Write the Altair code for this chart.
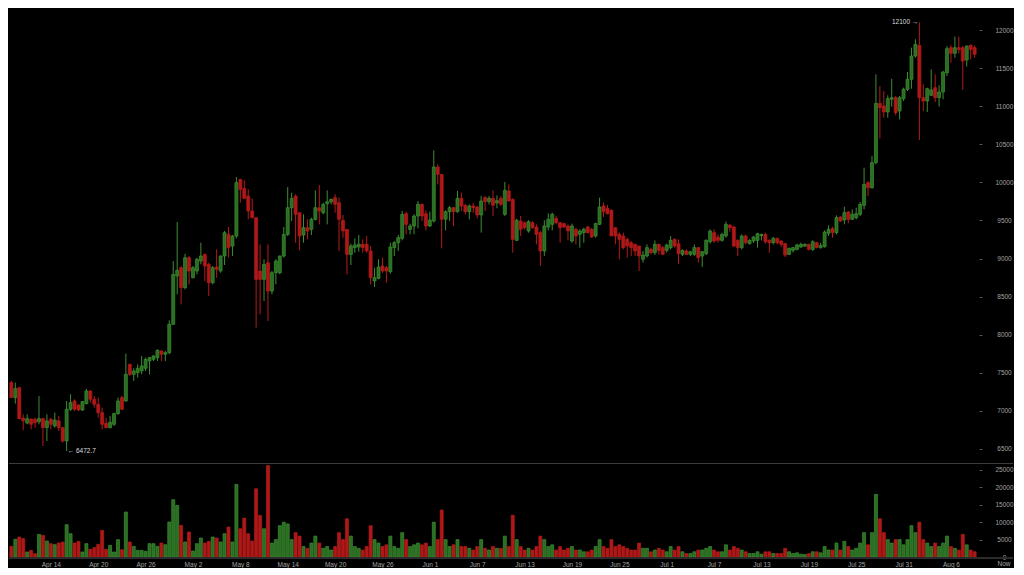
import json
import altair as alt
import pandas as pd

# ---------------- data (12h candles, starting Apr 9) ----------------
opens = [7371, 7174, 7305, 6905, 6840, 6894, 6889, 6859, 6898, 6780,
         6889, 6802, 6868, 6780, 6605, 7021, 7130, 7078, 7012, 7095,
         7261, 7152, 7087, 6977, 6837, 6780, 6824, 6964, 7174, 7130,
         7611, 7480, 7502, 7524, 7559, 7655, 7677, 7699, 7786, 7743,
         7765, 8136, 8770, 8880, 8617, 9011, 8748, 8836, 8967, 9055,
         8924, 8683, 8888, 8836, 9033, 9317, 9164, 9295, 10039, 9921,
         9820, 9624, 9536, 8836, 8726, 8945, 8573, 8814, 8814, 9033,
         9317, 9667, 9820, 9602, 9309, 9405, 9383, 9514, 9667, 9602,
         9720, 9745, 9799, 9733, 9502, 9383, 9055, 9143, 9152, 9187,
         9187, 9099, 8705, 8740, 8902, 8880, 8828, 9143, 9208, 9265,
         9589, 9383, 9427, 9558, 9712, 9589, 9427, 9493, 10202, 10105,
         9515, 9615, 9668, 9615, 9790, 9699, 9615, 9690, 9676, 9572,
         9799, 9747, 9790, 9730, 9790, 9580, 9887, 9777, 9239, 9493,
         9471, 9362, 9471, 9414, 9340, 9099, 9414, 9449, 9528, 9471,
         9458, 9427, 9230, 9383, 9318, 9340, 9414, 9383, 9296, 9449,
         9690, 9659, 9633, 9405, 9318, 9296, 9252, 9208, 9187, 9165,
         8990, 9034, 9121, 9077, 9186, 9143, 9107, 9143, 9252, 9195,
         9055, 9099, 9055, 9055, 9143, 9033, 9064, 9221, 9339, 9282,
         9239, 9296, 9440, 9414, 9239, 9143, 9296, 9195, 9230, 9239,
         9300, 9317, 9239, 9208, 9265, 9230, 9195, 9055, 9107, 9120,
         9151, 9164, 9186, 9120, 9208, 9143, 9156, 9331, 9392, 9340,
         9545, 9506, 9611, 9515, 9537, 9580, 9699, 9996, 9930, 10259,
         11037, 11003, 10924, 11090, 11112, 10937, 11099, 11221, 11353, 11659,
         11799, 11112, 11068, 11143, 11243, 11112, 11186, 11440, 11768, 11694,
         11768, 11768, 11606, 11799, 11768]
highs = [7395, 7371, 7310, 6955, 6955, 6894, 6911, 7196, 6911, 6955,
         6911, 6977, 6933, 6780, 7130, 7218, 7152, 7087, 7130, 7290,
         7270, 7196, 7174, 7043, 6911, 6933, 6977, 7174, 7196, 7751,
         7620, 7559, 7611, 7721, 7699, 7708, 7730, 7808, 7795, 7786,
         8189, 8967, 9479, 8900, 9063, 9033, 8902, 9011, 9208, 9063,
         8945, 8902, 9120, 9041, 9361, 9414, 9309, 10070, 10039, 10026,
         9908, 9790, 9536, 9186, 8989, 9186, 8836, 8989, 9041, 9414,
         9939, 9864, 9842, 9602, 9580, 9514, 9536, 9895, 9965, 9733,
         9895, 9790, 9843, 9799, 9572, 9383, 9195, 9265, 9309, 9252,
         9296, 9165, 8880, 8990, 9011, 8902, 9208, 9230, 9309, 9624,
         9615, 9458, 9580, 9755, 9720, 9633, 9615, 10420, 10237, 10105,
         9633, 9690, 9676, 9887, 9865, 9711, 9711, 9733, 9690, 9821,
         9821, 9821, 9895, 9830, 9821, 10005, 9974, 9790, 9520, 9559,
         9484, 9502, 9490, 9449, 9362, 9502, 9594, 9602, 9560, 9480,
         9470, 9449, 9458, 9405, 9383, 9405, 9430, 9400, 9471, 9799,
         9734, 9703, 9646, 9414, 9340, 9340, 9274, 9230, 9195, 9165,
         9099, 9187, 9143, 9239, 9195, 9164, 9195, 9296, 9265, 9252,
         9120, 9120, 9099, 9186, 9151, 9099, 9252, 9383, 9383, 9317,
         9339, 9484, 9449, 9427, 9252, 9317, 9317, 9252, 9296, 9339,
         9326, 9339, 9252, 9282, 9274, 9239, 9208, 9143, 9151, 9195,
         9208, 9200, 9195, 9239, 9221, 9208, 9370, 9436, 9418, 9567,
         9558, 9681, 9624, 9646, 9668, 9742, 10193, 10018, 10346, 11418,
         11265, 11199, 11143, 11361, 11134, 11134, 11243, 11449, 11768, 11878,
         12100, 11287, 11243, 11484, 11418, 11274, 11462, 11790, 11799, 11913,
         11913, 11790, 11799, 11812, 11799]
lows = [7174, 7095, 6890, 6745, 6824, 6758, 6780, 6824, 6539, 6605,
        6758, 6780, 6736, 6583, 6472.7, 6999, 6999, 6999, 7000, 7087,
        7108, 7043, 6911, 6758, 6770, 6770, 6802, 6946, 7012, 7121,
        7458, 7393, 7436, 7480, 7524, 7480, 7655, 7655, 7655, 7655,
        7743, 8136, 8530, 8398, 8595, 8661, 8740, 8792, 8924, 8705,
        8508, 8661, 8748, 8814, 8915, 9011, 9033, 9265, 9733, 9780,
        9514, 9527, 8092, 8267, 8442, 8180, 8530, 8661, 8792, 9011,
        9295, 9492, 9208, 9107, 9208, 9252, 9309, 9501, 9449, 9580,
        9449, 9711, 9602, 9099, 9274, 8793, 8915, 9077, 9090, 9077,
        9077, 8661, 8626, 8727, 8814, 8683, 8801, 9033, 9099, 9239,
        9318, 9318, 9318, 9396, 9493, 9370, 9414, 9471, 9974, 9134,
        9370, 9493, 9427, 9602, 9624, 9580, 9515, 9602, 9528, 9340,
        9624, 9711, 9560, 9660, 9690, 9559, 9750, 9077, 9230, 9296,
        9383, 9340, 9390, 9187, 8902, 9034, 9370, 9370, 9450, 9208,
        9400, 9239, 9208, 9187, 9143, 9208, 9330, 9270, 9274, 9440,
        9545, 9580, 9296, 9187, 8990, 9121, 9012, 9034, 9034, 8836,
        8946, 9012, 9055, 9047, 9055, 9046, 9077, 9120, 9143, 8932,
        9033, 9046, 9033, 9033, 8946, 8889, 9046, 9195, 9208, 9208,
        9221, 9274, 9353, 9151, 9033, 9120, 9186, 9186, 9208, 9143,
        9239, 9195, 9077, 9186, 9186, 9151, 9020, 9046, 9077, 9107,
        9143, 9150, 9107, 9099, 9134, 9130, 9143, 9296, 9274, 9318,
        9480, 9449, 9462, 9506, 9515, 9558, 9646, 9821, 9917, 10237,
        10574, 10849, 10849, 10994, 10880, 10827, 11068, 11199, 11230, 11637,
        10556, 10937, 10924, 11134, 11055, 10994, 11090, 11396, 11571, 11637,
        11694, 11213, 11519, 11615, 11637]
closes = [7174, 7292, 6898, 6870, 6898, 6824, 6846, 6898, 6780, 6868,
          6824, 6880, 6780, 6605, 7021, 7108, 7021, 7012, 7121, 7261,
          7152, 7087, 6977, 6824, 6780, 6850, 6964, 7130, 7021, 7480,
          7480, 7524, 7559, 7590, 7677, 7699, 7721, 7795, 7743, 7765,
          8137, 8792, 8845, 8617, 9011, 8836, 8880, 8989, 9033, 8902,
          8683, 8880, 8858, 9033, 9339, 9142, 9295, 9996, 9908, 9790,
          9624, 9536, 8726, 8726, 8923, 8573, 8814, 8967, 9033, 9317,
          9667, 9790, 9580, 9295, 9405, 9361, 9514, 9667, 9624, 9711,
          9745, 9776, 9712, 9515, 9362, 9055, 9165, 9178, 9187, 9143,
          9099, 8749, 8749, 8889, 8836, 8836, 9151, 9208, 9274, 9580,
          9449, 9427, 9558, 9712, 9558, 9427, 9506, 10202, 10105, 9515,
          9615, 9668, 9615, 9790, 9690, 9615, 9690, 9668, 9572, 9755,
          9747, 9790, 9700, 9760, 9712, 9895, 9755, 9252, 9502, 9383,
          9405, 9484, 9405, 9318, 9099, 9427, 9515, 9580, 9471, 9405,
          9414, 9362, 9427, 9296, 9362, 9383, 9340, 9283, 9458, 9677,
          9615, 9589, 9296, 9296, 9252, 9143, 9165, 9143, 9099, 9034,
          9047, 9143, 9077, 9187, 9107, 9055, 9177, 9239, 9164, 9064,
          9107, 9055, 9090, 9143, 9011, 9090, 9239, 9361, 9230, 9239,
          9317, 9449, 9405, 9164, 9143, 9296, 9208, 9239, 9282, 9326,
          9317, 9221, 9208, 9265, 9208, 9186, 9046, 9134, 9143, 9177,
          9186, 9186, 9120, 9221, 9143, 9173, 9348, 9384, 9340, 9537,
          9493, 9602, 9515, 9580, 9589, 9712, 9974, 9930, 10259, 11037,
          10981, 10924, 11099, 11112, 10915, 11112, 11221, 11353, 11659, 11812,
          11112, 11068, 11230, 11213, 11112, 11186, 11449, 11755, 11694, 11768,
          11746, 11593, 11790, 11746, 11681]
volumes = [3070, 5070, 5740, 5260, 1435, 1910, 960, 6500, 6220, 4590,
           3830, 3540, 4020, 4310, 9280, 6700, 4020, 4500, 1435, 3830,
           2200, 2680, 3640, 7650, 2200, 3350, 1435, 4980, 2100, 12920,
           4310, 3060, 1910, 1910, 1630, 3830, 3830, 3060, 4020, 3540,
           10050, 16460, 14830, 9090, 4310, 7180, 1720, 3830, 5450, 4020,
           4500, 5740, 5450, 4310, 6700, 8610, 4310, 20860, 8130, 11190,
           6700, 4590, 19610, 11960, 8130, 26310, 4000, 5000, 9000, 10000,
           9500, 5000, 7000, 6000, 3000, 2500, 4000, 6000, 4000, 2500,
           3000, 2000, 3000, 7000, 5000, 11000, 6000, 3000, 2500, 2000,
           3000, 9000, 5000, 4000, 3000, 3500, 6000, 3000, 2500, 7000,
           5000, 3000, 3500, 4000, 3500, 4000, 3000, 10000, 5000, 13500,
           5000, 3000, 3500, 5000, 3000, 3000, 2500, 2000, 3000, 5000,
           2500, 2000, 3000, 2500, 2500, 6000, 3000, 12000, 5000, 3000,
           2000, 2500, 2000, 3000, 6000, 5000, 3000, 3500, 2000, 3000,
           2000, 2500, 3000, 2000, 2000, 1500, 1500, 2000, 3000, 5000,
           3000, 2500, 5000, 3000, 3500, 3000, 2500, 2000, 2000, 4000,
           2500, 2500, 1500, 2000, 2500, 2000, 1500, 3000, 2000, 3000,
           1500, 1000, 1000, 1500, 2000, 2000, 2500, 3000, 2000, 1500,
           1500, 3500, 2000, 3000, 2500, 2000, 1500, 1000, 1000, 1500,
           800, 1500, 1500, 1000, 1000, 1000, 2500, 1500, 1000, 1200,
           800, 700, 1000, 1500, 1500, 1200, 3000, 2000, 2000, 4000,
           2000, 4500, 3000, 2000, 2500, 4000, 7000, 3500, 7000, 18000,
           11000, 7000, 5000, 4000, 5000, 5000, 3500, 5000, 9000, 7000,
           10000, 5000, 4000, 3000, 4000, 3000, 4000, 6000, 3000, 2500,
           2000, 6500, 3500, 2000, 1500]

x_tick_index = [10, 22, 34, 46, 58, 70, 82, 94, 106, 118,
                130, 142, 154, 166, 178, 190, 202, 214, 226, 238]
x_tick_labels = ["Apr 14", "Apr 20", "Apr 26", "May 2", "May 8", "May 14",
                 "May 20", "May 26", "Jun 1", "Jun 7", "Jun 13", "Jun 19",
                 "Jun 25", "Jul 1", "Jul 7", "Jul 13", "Jul 19", "Jul 25",
                 "Jul 31", "Aug 6"]
price_ticks = [6500, 7000, 7500, 8000, 8500, 9000, 9500, 10000, 10500,
               11000, 11500, 12000]
volume_ticks = [0, 5000, 10000, 15000, 20000, 25000]
now_label = "Now"

# ---------------- layout / style ----------------
W = 968
H1 = 452
H2 = 94
FONT = "Liberation Sans"
LBL = "#a3a3a3"
GREEN_FILL = "#2a6e22"
GREEN_EDGE = "#45a33a"
RED_FILL = "#b01818"
RED_EDGE = "#c42020"

n = len(opens)
df = pd.DataFrame({
    "i": list(range(n)),
    "open": opens, "high": highs, "low": lows, "close": closes,
    "volume": volumes,
})
df["dir"] = ["up" if c >= o else "down" for o, c in zip(opens, closes)]

xscale = alt.Scale(domain=[-0.6, n - 0.4], nice=False, zero=False, padding=0)
pscale = alt.Scale(domain=[6342, 12276], nice=False, zero=False, padding=0)
vscale = alt.Scale(domain=[0, 27011], nice=False, padding=0)
fill_scale = alt.Scale(domain=["up", "down"], range=[GREEN_FILL, RED_FILL])
edge_scale = alt.Scale(domain=["up", "down"], range=[GREEN_EDGE, RED_EDGE])
wick_scale = alt.Scale(domain=["up", "down"], range=["#3d8f33", "#b51b1b"])

yaxis_common = dict(orient="right", format="d", labelAlign="center",
                    labelPadding=22, tickSize=3, offset=2, tickColor="#555555",
                    domain=False, grid=False, labelColor=LBL, labelFont=FONT,
                    labelFontSize=6.5, title=None, labelOverlap=False)

base = alt.Chart(df)

wick = base.mark_rule(strokeWidth=1).encode(
    x=alt.X("i:Q", scale=xscale, axis=None),
    y=alt.Y("low:Q", scale=pscale,
            axis=alt.Axis(values=price_ticks, **yaxis_common)),
    y2="high:Q",
    stroke=alt.Stroke("dir:N", scale=wick_scale, legend=None),
)
body = base.mark_bar(size=3, strokeWidth=0.7).encode(
    x=alt.X("i:Q", scale=xscale, axis=None),
    y=alt.Y("open:Q", scale=pscale),
    y2="close:Q",
    fill=alt.Fill("dir:N", scale=fill_scale, legend=None),
    stroke=alt.Stroke("dir:N", scale=edge_scale, legend=None),
)

imin = int(pd.Series(lows).idxmin())
imax = int(pd.Series(highs).idxmax())
min_df = pd.DataFrame({"i": [imin], "p": [lows[imin]],
                       "t": ["\u2190 " + format(lows[imin], "g")]})
max_df = pd.DataFrame({"i": [imax], "p": [highs[imax]],
                       "t": [format(highs[imax], "g") + " \u2192"]})
min_txt = alt.Chart(min_df).mark_text(align="left", baseline="middle", dx=1,
                                      font=FONT, fontSize=6.5, color="#dddddd").encode(
    x=alt.X("i:Q", scale=xscale, axis=None),
    y=alt.Y("p:Q", scale=pscale), text="t:N")
max_txt = alt.Chart(max_df).mark_text(align="right", baseline="middle", dx=-1,
                                      font=FONT, fontSize=6.5, color="#dddddd").encode(
    x=alt.X("i:Q", scale=xscale, axis=None),
    y=alt.Y("p:Q", scale=pscale), text="t:N")

price = alt.layer(wick, body, min_txt, max_txt).properties(width=W, height=H1)

label_expr = "{}[indexof({}, datum.value)]".format(json.dumps(x_tick_labels),
                                                  json.dumps(x_tick_index))
vol = base.mark_bar(size=3, strokeWidth=0.7).encode(
    x=alt.X("i:Q", scale=xscale,
            axis=alt.Axis(values=x_tick_index, labelExpr=label_expr, ticks=False,
                          domain=False, grid=False, labelColor=LBL, labelFont=FONT,
                          labelFontSize=6.5, labelPadding=4, labelBaseline="top",
                          labelOverlap=False, labelFlush=False, title=None)),
    y=alt.Y("volume:Q", scale=vscale,
            axis=alt.Axis(values=volume_ticks, **yaxis_common)),
    fill=alt.Fill("dir:N", scale=fill_scale, legend=None),
    stroke=alt.Stroke("dir:N", scale=edge_scale, legend=None),
)
sep_top = alt.Chart(df).mark_rule(color="#3c3c3c", strokeWidth=1).encode(
    x=alt.value(0), x2=alt.value(W + 36), y=alt.value(0.5))
sep_bot = alt.Chart(df).mark_rule(color="#2c2c2c", strokeWidth=1).encode(
    x=alt.value(0), x2=alt.value(W + 36), y=alt.value(H2 + 1))
now_txt = alt.Chart(pd.DataFrame({"t": [now_label]})).mark_text(
    align="center", baseline="top", font=FONT, fontSize=6.5, color=LBL).encode(
    x=alt.value(W + 27), y=alt.value(H2 + 4), text="t:N")

volume = alt.layer(vol, sep_top, sep_bot, now_txt).properties(width=W, height=H2)

chart = alt.vconcat(price, volume, spacing=0).properties(
    background="#000000", padding=0
).configure_view(stroke="transparent")

chart.save("out.html", embed_options={"renderer": "svg", "actions": False})
